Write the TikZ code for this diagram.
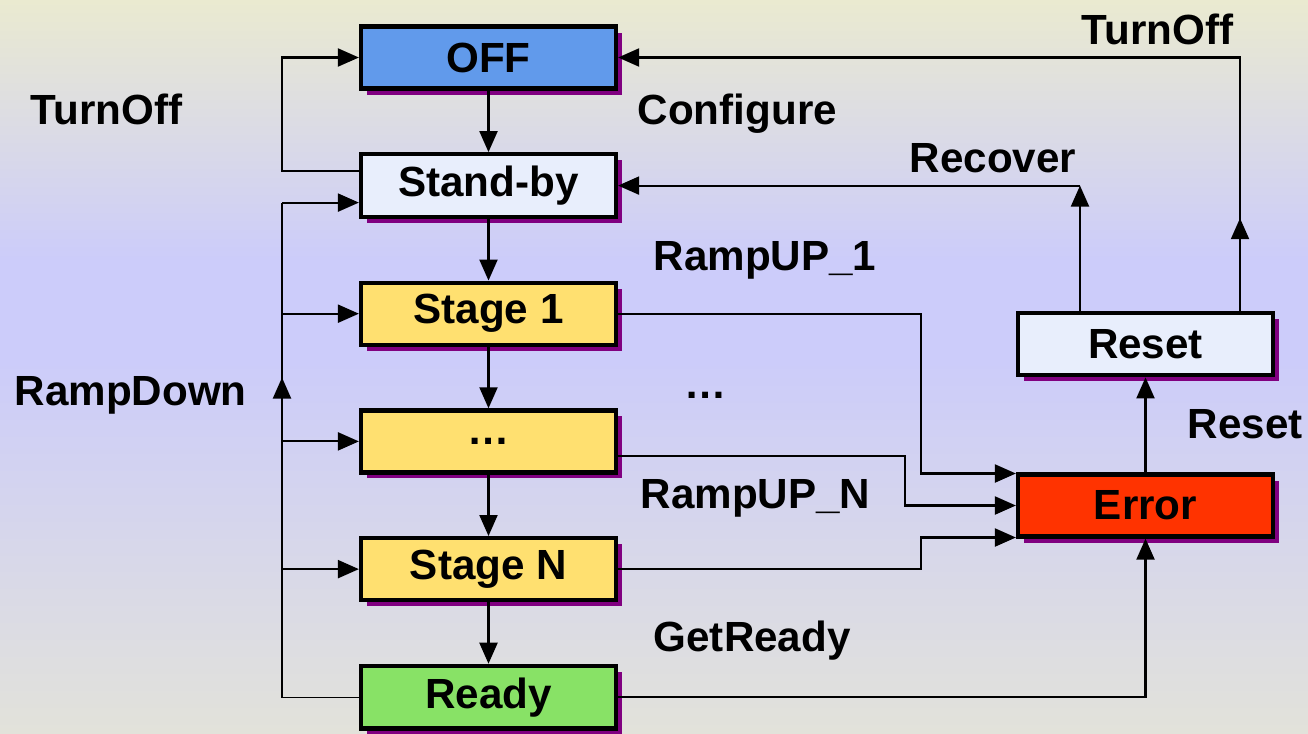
\documentclass[tikz,border=0pt]{standalone}
\usepackage{fontspec}
\setmainfont{Liberation Sans}
\usetikzlibrary{positioning,arrows.meta,shadows,calc}
\definecolor{offblue}{RGB}{97,154,235}
\definecolor{paleblue}{RGB}{232,238,252}
\definecolor{stageyellow}{RGB}{255,224,112}
\definecolor{readygreen}{RGB}{136,226,102}
\definecolor{errorred}{RGB}{255,51,0}
\definecolor{shadowpurple}{RGB}{128,0,128}
\definecolor{bgtop}{RGB}{234,234,208}
\definecolor{bglav}{RGB}{204,204,250}
\definecolor{bgbot}{RGB}{226,226,218}
\tikzset{
  state/.style   = {shape=rectangle, draw, line width=1.2pt,
                    minimum width=2.55cm, minimum height=0.62cm,
                    font=\fontsize{12}{14}\selectfont\bfseries,
                    drop shadow={fill=shadowpurple, opacity=1,
                                 shadow xshift=0.06cm, shadow yshift=-0.06cm}},
  offstate/.style = {state, fill=offblue},
  idle/.style     = {state, fill=paleblue},
  stage/.style    = {state, fill=stageyellow},
  readystate/.style = {state, fill=readygreen},
  errstate/.style = {state, fill=errorred},
  trans/.style    = {line width=0.6pt, -{Triangle[length=0.21cm,width=0.18cm]}},
  lbl/.style      = {font=\fontsize{12}{14}\selectfont\bfseries,
                     anchor=base west, inner sep=0pt}
}

\begin{document}
\begin{tikzpicture}
 [node distance=0.615cm]

  % background
  \shade[top color=bgtop, bottom color=bglav] (0,0) rectangle (13.08,-2.6);
  \fill[bglav] (0,-2.59) rectangle (13.08,-3.61);
  \shade[top color=bglav, bottom color=bgbot] (0,-3.6) rectangle (13.08,-7.33);
  \useasboundingbox (0,0) rectangle (13.08,-7.33);

  % states
  \node[offstate] (off) at (4.885,-0.575) {OFF};
  \node[idle]  (stby)   [below=of off]    {Stand-by};
  \node[stage] (stage1) [below=of stby]   {Stage 1};
  \node[stage] (dots)   [below=of stage1] {\dots};
  \node[stage] (stageN) [below=of dots]   {Stage N};
  \node[readystate] (ready) [below=of stageN] {Ready};
  \node[errstate] (err) at (11.455,-5.055) {Error};
  \node[idle]  (reset)  [above=0.95cm of err] {Reset};

  \coordinate (lx) at (2.82,0);
  \coordinate (rx) at (9.21,0);
  \coordinate (rx2) at (9.05,0);

  % down the column
  \foreach \a/\b in {off/stby,stby/stage1,stage1/dots,dots/stageN,stageN/ready}
    \draw[trans] (\a) -- (\b);

  % left side
  \draw[trans] ([yshift=0.15cm]stby.west) -- ([yshift=0.15cm]stby.west -| lx)
    |- (off.west);
  \draw (ready.west) -- (ready.west -| lx)
    |- ([yshift=-0.17cm]stby.west -| lx);
  \draw[trans] ([yshift=-0.17cm]stby.west -| lx) -- ([yshift=-0.17cm]stby.west);
  \draw[trans] (ready.west -| lx) -- ($(lx |- stage1)!0.5!(lx |- dots)$);
  \foreach \n in {stage1,dots,stageN}
    \draw[trans] (lx |- \n) -- (\n.west);

  % into error
  \draw[trans] (stage1.east) -| ([yshift=0.32cm]err.west -| rx)
    -- ([yshift=0.32cm]err.west);
  \draw[trans] ([yshift=-0.15cm]dots.east) -| (err.west -| rx2) -- (err.west);
  \draw[trans] (stageN.east) -| ([yshift=-0.32cm]err.west -| rx)
    -- ([yshift=-0.32cm]err.west);
  \draw[trans] (ready.east) -| (err.south);
  \draw[trans] (err.north) -- (reset.south);

  % out of reset
  \coordinate (rl) at ([xshift=-0.655cm]reset.north);
  \coordinate (rr) at ([xshift=0.945cm]reset.north);
  \draw[trans] (rl) -- (rl |- stby);
  \draw[trans] (rl |- stby) -- (stby.east);
  \draw[trans] (rr) -- ++(0,0.93);
  \draw[trans] (rr) |- (off.east);

  % labels
  \node[lbl] (lturnoff)  at (0.30,-1.24) {TurnOff};
  \node[lbl] (lramp)     at (0.14,-4.05) {RampDown};
  \node[lbl] (lconf)     at (6.37,-1.24) {Configure};
  \node[lbl] (lrecover)  at (9.09,-1.72) {Recover};
  \node[lbl] (lturnoff2) at (10.81,-0.44) {TurnOff};
  \node[lbl] (lramp1)    at (6.53,-2.70) {RampUP\_1};
  \node[lbl] (ldots)     at (6.84,-3.98) {\dots};
  \node[lbl] (lreset)    at (11.87,-4.38) {Reset};
  \node[lbl] (lrampN)    at (6.40,-5.08) {RampUP\_N};
  \node[lbl] (lget)      at (6.53,-6.51) {GetReady};
\end{tikzpicture}
\end{document}
